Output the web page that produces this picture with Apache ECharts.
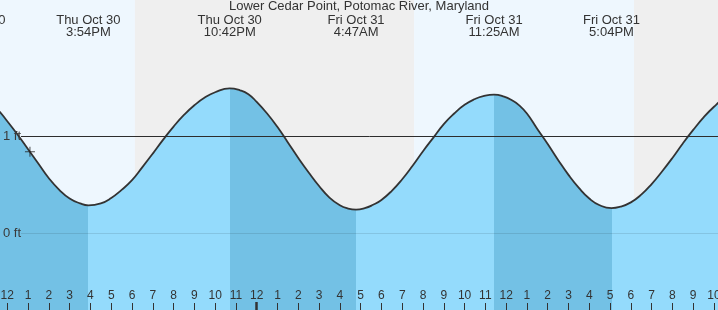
<!DOCTYPE html>
<html><head><meta charset="utf-8">
<script src="https://cdn.jsdelivr.net/npm/echarts@6/dist/echarts.min.js"></script>
<style>html,body{margin:0;padding:0;background:#fff}#c{width:718px;height:310px}</style>
</head><body><div id="c"></div>
<script>
// ---- data (hours counted from Thu Oct 30, 12 PM) ----
const chartTitle = 'Lower Cedar Point, Potomac River, Maryland';
const tideHours = [-1.63, -1, -0.5, 0, 0.5, 1, 1.5, 2, 2.5, 3, 3.5, 3.9,
  4.5, 5, 5.5, 6, 6.5, 7, 7.5, 8, 8.5, 9, 9.5, 10, 10.7,
  11.2, 11.6, 12, 12.5, 13, 13.5, 14, 14.5, 15, 15.5, 16, 16.4, 16.78,
  17.2, 17.6, 18, 18.5, 19, 19.5, 20, 20.5, 21, 21.5, 22, 22.5, 22.9, 23.42,
  23.9, 24.3, 24.6, 25, 25.5, 26, 26.5, 27, 27.5, 28, 28.5, 29.07,
  29.5, 30, 30.5, 31, 31.5, 32, 32.5, 33, 33.5, 34, 34.5, 35];
const tideFeet = [1.46, 1.38, 1.29, 1.16, 1.02, 0.87, 0.72, 0.57, 0.45, 0.36, 0.31, 0.29,
  0.31, 0.365, 0.45, 0.55, 0.685, 0.825, 0.97, 1.105, 1.225, 1.325, 1.405, 1.46, 1.50,
  1.48, 1.44, 1.36, 1.24, 1.10, 0.94, 0.78, 0.63, 0.49, 0.37, 0.29, 0.256, 0.245,
  0.26, 0.295, 0.345, 0.44, 0.56, 0.70, 0.85, 0.99, 1.13, 1.24, 1.33, 1.39, 1.42, 1.435,
  1.415, 1.375, 1.33, 1.24, 1.08, 0.925, 0.76, 0.605, 0.47, 0.36, 0.29, 0.26,
  0.275, 0.32, 0.40, 0.51, 0.64, 0.78, 0.93, 1.07, 1.20, 1.31, 1.40, 1.46];
const extremeHours = [-1.63, 3.9, 10.7, 16.78, 23.42, 29.07];
const extremeDays  = ['Thu Oct 30', 'Thu Oct 30', 'Thu Oct 30', 'Fri Oct 31', 'Fri Oct 31', 'Fri Oct 31'];
const extremeClock = ['10:22AM', '3:54PM', '10:42PM', '4:47AM', '11:25AM', '5:04PM'];
const sunHours = [6.14, 19.57, 30.15];          // sunset, sunrise, sunset
const hourTicks  = [0,1,2,3,4,5,6,7,8,9,10,11,12,13,14,15,16,17,18,19,20,21,22,23,24,25,26,27,28,29,30,31,32,33,34];
const hourLabels = ['12','1','2','3','4','5','6','7','8','9','10','11','12','1','2','3','4','5','6','7','8','9','10','11','12','1','2','3','4','5','6','7','8','9','10'];
const midnightHours = [12];
const feetTicks = [0, 1];
const nowPoint = [1.09, 0.845];

// ---- view ----
const xMin = -0.351, xMax = 34.193, yMin = -0.794, yMax = 2.415;
const FONT = "'Liberation Sans', Arial, sans-serif";
const DAY = '#eef7fe', NIGHT = '#efefef', RISE = '#94dbfc', FALL = '#73c1e5';

const tide = tideHours.map((h, i) => [h, tideFeet[i]]);
const pieces = [];
for (let i = 1; i < extremeHours.length; i++) {
  const falling = (i % 2 === 1);
  pieces.push({ gte: i === 1 ? -100 : extremeHours[i - 1], lt: extremeHours[i], color: falling ? FALL : RISE });
}
pieces.push({ gte: extremeHours[extremeHours.length - 1], lt: 100, color: (extremeHours.length % 2 === 0) ? RISE : FALL });

const bgAreas = [
  [{ xAxis: xMin, itemStyle: { color: DAY } }, { xAxis: sunHours[0] }],
  [{ xAxis: sunHours[0], itemStyle: { color: NIGHT } }, { xAxis: sunHours[1] }],
  [{ xAxis: sunHours[1], itemStyle: { color: DAY } }, { xAxis: sunHours[2] }],
  [{ xAxis: sunHours[2], itemStyle: { color: NIGHT } }, { xAxis: xMax }]
];
const lineStart = 0.66;

const chart = echarts.init(document.getElementById('c'));
chart.setOption({
  animation: false,
  backgroundColor: '#fff',
  title: { text: chartTitle, left: 'center', top: 0, padding: 0,
    textStyle: { fontSize: 13, fontWeight: 'normal', color: '#333', fontFamily: FONT } },
  grid: { left: 0, right: 0, top: 0, bottom: 0, containLabel: false, outerBoundsMode: 'none' },
  xAxis: [{
    type: 'value', min: xMin, max: xMax, z: 10, position: 'bottom',
    axisLine: { show: false, onZero: false }, splitLine: { show: false },
    axisTick: { show: true, inside: true, length: 7, customValues: hourTicks, lineStyle: { color: '#333', width: 1 } },
    axisLabel: { show: true, inside: true, margin: 8, customValues: hourTicks,
      formatter: v => hourLabels[hourTicks.indexOf(v)],
      color: '#333', fontSize: 12, fontFamily: FONT }
  }, {
    type: 'value', min: xMin, max: xMax, z: 10, position: 'bottom', offset: 0,
    axisLine: { show: false, onZero: false }, splitLine: { show: false }, axisLabel: { show: false },
    axisTick: { show: true, inside: true, length: 8, customValues: midnightHours, lineStyle: { color: '#333', width: 2.5 } }
  }],
  yAxis: {
    type: 'value', min: yMin, max: yMax, z: 10,
    axisLine: { show: false, onZero: false }, axisTick: { show: false }, splitLine: { show: false },
    axisLabel: { show: true, inside: true, margin: 3, customValues: feetTicks,
      formatter: v => v + ' ft', color: '#3a3a3a', fontSize: 13, fontFamily: FONT }
  },
  visualMap: { show: false, type: 'piecewise', dimension: 0, seriesIndex: 1, pieces: pieces },
  series: [
    { type: 'line', z: 1, data: tide, showSymbol: false, silent: true,
      lineStyle: { width: 0, opacity: 0 },
      markArea: { silent: true, data: bgAreas },
      markLine: { silent: true, symbol: 'none', label: { show: false },
        lineStyle: { color: '#333', width: 1, type: 'solid' },
        data: [[{ coord: [lineStart, 1] }, { coord: [xMax, 1] }]] } },
    { type: 'line', z: 2, data: tide, smooth: 0.5, showSymbol: false, silent: true,
      lineStyle: { width: 0, opacity: 0 }, areaStyle: { opacity: 1, origin: 'start' } },
    { type: 'line', z: 3, data: tide, smooth: 0.5, showSymbol: false, silent: true,
      lineStyle: { color: '#333', width: 1.8 },
      markLine: { silent: true, symbol: 'none', label: { show: false },
        lineStyle: { color: 'rgba(0,0,0,0.1)', width: 1, type: 'solid' },
        data: [[{ coord: [lineStart, 1] }, { coord: [xMax, 1] }], [{ coord: [lineStart, 0] }, { coord: [xMax, 0] }]] } },
    { type: 'scatter', z: 4, data: [nowPoint], silent: true,
      symbol: 'path://M4.5,0h1v10h-1zM0,4.5h10v1h-10z', symbolSize: 10, itemStyle: { color: '#222' } },
    { type: 'custom', z: 5, silent: true,
      data: extremeHours.map((h, i) => [h, i]),
      encode: { x: 0 },
      renderItem: (params, api) => {
        const i = api.value(1);
        const x = api.coord([api.value(0), 0])[0];
        return { type: 'text', x: x, y: 14,
          style: { text: extremeDays[i] + '\n' + extremeClock[i], align: 'center', verticalAlign: 'top',
            fontSize: 13, fontFamily: FONT, fill: '#333', lineHeight: 12 } };
      } }
  ]
});
</script></body></html>
